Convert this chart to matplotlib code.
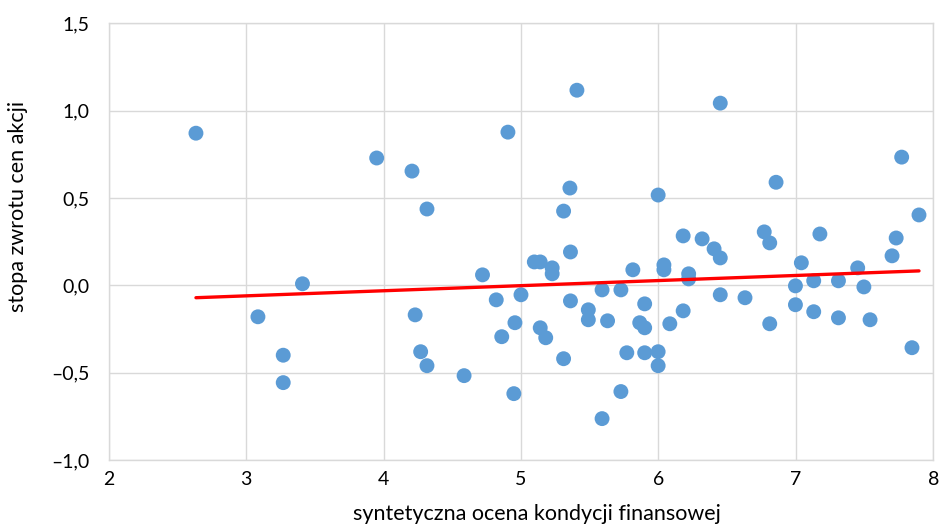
import numpy as np
import matplotlib
matplotlib.use("Agg")
import matplotlib.pyplot as plt
from matplotlib.ticker import FuncFormatter

plt.rcParams['font.family'] = ['Lato', 'DejaVu Sans']

# synthetic financial-condition score vs. share price return
ocena = [2.635, 3.086, 3.27, 3.27, 3.41, 3.95, 4.207, 4.316, 4.23, 4.27,
         4.316, 4.586, 4.72, 4.82, 4.86, 4.905, 4.948, 4.956, 5.0, 5.097,
         5.14, 5.227, 5.227, 5.14, 5.18, 5.31, 5.356, 5.36, 5.407, 5.36,
         5.31, 5.49, 5.49, 5.59, 5.59, 5.63, 5.727, 5.727, 5.77, 5.814,
         5.864, 5.9, 5.9, 5.9, 5.998, 5.998, 5.998, 6.04, 6.04, 6.083,
         6.18, 6.18, 6.22, 6.22, 6.318, 6.405, 6.45, 6.45, 6.45, 6.63,
         6.77, 6.81, 6.856, 6.81, 6.997, 6.997, 7.04, 7.13, 7.13, 7.175,
         7.31, 7.31, 7.45, 7.495, 7.54, 7.70, 7.73, 7.77, 7.845, 7.896]
zwrot = [0.871, -0.18, -0.40, -0.557, 0.009, 0.729, 0.654, 0.437, -0.169, -0.38,
         -0.46, -0.517, 0.06, -0.083, -0.294, 0.877, -0.62, -0.214, -0.054, 0.134,
         0.134, 0.10, 0.066, -0.243, -0.30, 0.425, 0.557, 0.191, 1.117, -0.089,
         -0.42, -0.14, -0.197, -0.026, -0.763, -0.203, -0.608, -0.026, -0.386, 0.089,
         -0.214, -0.243, -0.106, -0.386, -0.38, 0.517, -0.46, 0.117, 0.089, -0.22,
         0.283, -0.146, 0.066, 0.037, 0.266, 0.209, 0.157, 1.043, -0.054, -0.071,
         0.306, 0.243, 0.59, -0.22, -0.003, -0.111, 0.129, 0.026, -0.151, 0.294,
         0.026, -0.186, 0.10, -0.009, -0.197, 0.169, 0.271, 0.734, -0.357, 0.403]

x_ticks = [2, 3, 4, 5, 6, 7, 8]
y_ticks = [-1.0, -0.5, 0.0, 0.5, 1.0, 1.5]

x = np.array(ocena)
y = np.array(zwrot)
a, b = np.polyfit(x, y, 1)
xs = np.array([x.min(), x.max()])

fig = plt.figure(figsize=(9.41, 5.24), dpi=100)
ax = fig.add_axes([0.1155, 0.1221, 0.8763, 0.8334])

ax.scatter(x, y, s=115, color='#5B9BD5', edgecolors='none', zorder=3)
ax.plot(xs, a * xs + b, color='#FF0000', lw=2.4, solid_capstyle='round', zorder=4)

ax.set_xlim(2, 8)
ax.set_ylim(-1.0, 1.5)
ax.set_xticks(x_ticks)
ax.set_yticks(y_ticks)
ax.grid(True, color='#d9d9d9', lw=1)
ax.set_axisbelow(True)
for s in ax.spines.values():
    s.set_color('#d9d9d9')
    s.set_linewidth(1)
ax.tick_params(length=0, labelsize=14, colors='black')
ax.tick_params(axis='x', pad=8)
ax.tick_params(axis='y', pad=14)
ax.xaxis.set_major_formatter(FuncFormatter(lambda v, p: '%d' % v))
ax.yaxis.set_major_formatter(FuncFormatter(
    lambda v, p: ('%.1f' % v).replace('.', ',').replace('-', '\u2013')))

ax.set_xlabel('syntetyczna ocena kondycji finansowej', fontsize=15.5)
ax.set_ylabel('stopa zwrotu cen akcji', fontsize=15.5)
ax.xaxis.set_label_coords(0.519, -0.1)
ax.yaxis.set_label_coords(-0.098, 0.58)

fig.savefig('out.png', dpi=100, facecolor='white')
